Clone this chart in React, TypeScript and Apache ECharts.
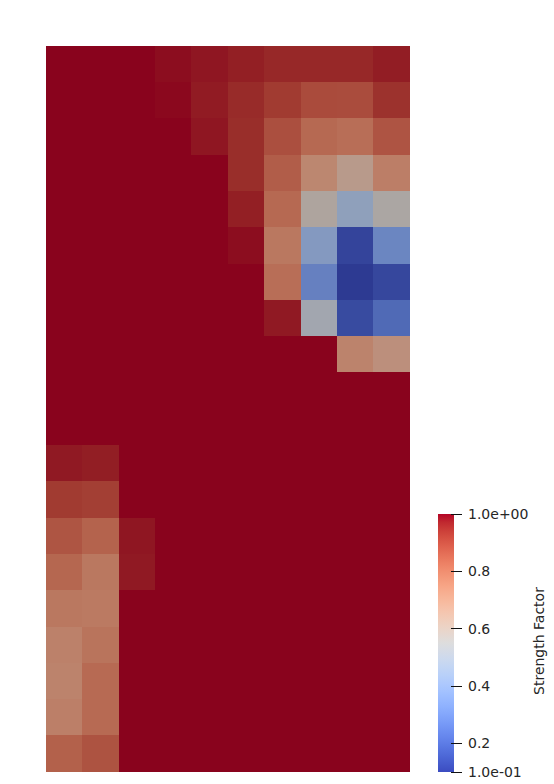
import React, { useEffect, useRef } from "react";
import * as echarts from "echarts";

// Grid of "Strength Factor" values, rows top->bottom, 10 columns each
const ROW_VALUES: number[][] = [
  [1, 1, 1, 0.99, 0.98, 0.97, 0.955, 0.955, 0.955, 0.973],
  [1, 1, 1, 0.995, 0.975, 0.95, 0.92, 0.883, 0.88, 0.937],
  [1, 1, 1, 1, 0.98, 0.946, 0.874, 0.808, 0.795, 0.861],
  [1, 1, 1, 1, 1, 0.946, 0.84, 0.72, 0.64, 0.747],
  [1, 1, 1, 1, 1, 0.97, 0.81, 0.58, 0.45, 0.565],
  [1, 1, 1, 1, 1, 0.99, 0.766, 0.41, 0.128, 0.325],
  [1, 1, 1, 1, 1, 1, 0.795, 0.307, 0.1, 0.135],
  [1, 1, 1, 1, 1, 1, 0.977, 0.52, 0.145, 0.235],
  [1, 1, 1, 1, 1, 1, 1, 1, 0.73, 0.685],
  [1, 1, 1, 1, 1, 1, 1, 1, 1, 1],
  [1, 1, 1, 1, 1, 1, 1, 1, 1, 1],
  [0.977, 0.972, 1, 1, 1, 1, 1, 1, 1, 1],
  [0.92, 0.91, 1, 1, 1, 1, 1, 1, 1, 1],
  [0.86, 0.825, 0.98, 1, 1, 1, 1, 1, 1, 1],
  [0.815, 0.766, 0.977, 1, 1, 1, 1, 1, 1, 1],
  [0.766, 0.76, 1, 1, 1, 1, 1, 1, 1, 1],
  [0.736, 0.777, 1, 1, 1, 1, 1, 1, 1, 1],
  [0.73, 0.806, 1, 1, 1, 1, 1, 1, 1, 1],
  [0.745, 0.806, 1, 1, 1, 1, 1, 1, 1, 1],
  [0.83, 0.865, 1, 1, 1, 1, 1, 1, 1, 1],
];

const COLUMNS = ["0", "1", "2", "3", "4", "5", "6", "7", "8", "9"];
const ROWS = ROW_VALUES.map((_, i) => String(i));

const RANGE_MIN = 0.1;
const RANGE_MAX = 1.0;
const TICK_VALUES = [1.0, 0.8, 0.6, 0.4, 0.2, 0.1];
const TICK_LABELS = ["1.0e+00", "0.8", "0.6", "0.4", "0.2", "1.0e-01"];
const BAR_TITLE = "Strength Factor";

// ParaView "Cool to Warm" colormap
const COOL_WARM: number[][] = [
  [59, 76, 192], [68, 90, 204], [77, 104, 215], [87, 117, 225], [98, 130, 234],
  [108, 142, 241], [119, 154, 247], [130, 165, 251], [141, 176, 254], [152, 185, 255],
  [163, 194, 255], [174, 201, 253], [184, 208, 249], [194, 213, 244], [204, 217, 238],
  [213, 219, 230], [221, 221, 221], [229, 216, 209], [236, 211, 197], [241, 204, 185],
  [245, 196, 173], [247, 187, 160], [247, 177, 148], [247, 166, 135], [244, 154, 123],
  [241, 141, 111], [236, 127, 99], [229, 112, 88], [222, 96, 77], [213, 80, 66],
  [203, 62, 56], [192, 40, 47], [180, 4, 38],
];

const SHADE = 0.76;
const FONT = "14px 'DejaVu Sans', sans-serif";

const rgb = (c: number[], k = 1) =>
  `rgb(${Math.round(c[0] * k)},${Math.round(c[1] * k)},${Math.round(c[2] * k)})`;

export default function App() {
  const ref = useRef<HTMLDivElement>(null);
  useEffect(() => {
    if (!ref.current) return;
    const chart = echarts.init(ref.current, undefined, { renderer: "svg" });

    const data: [number, number, number][] = [];
    ROW_VALUES.forEach((row, r) => row.forEach((v, c) => data.push([c, r, v])));

    const barX = 438, barY = 514, barW = 16, barH = 258;
    const yOf = (v: number) => barY + ((RANGE_MAX - v) / (RANGE_MAX - RANGE_MIN)) * barH;
    const stops = COOL_WARM.map((c, i) => ({ offset: i / (COOL_WARM.length - 1), color: rgb(c) }));

    const graphics: any[] = [
      {
        type: "rect",
        shape: { x: barX, y: barY, width: barW, height: barH },
        style: { fill: { type: "linear", x: 0, y: 1, x2: 0, y2: 0, colorStops: stops } },
        silent: true,
      },
    ];
    TICK_VALUES.forEach((v, i) => {
      const y = yOf(v);
      graphics.push({
        type: "line",
        shape: { x1: 451, y1: y, x2: 462, y2: y },
        style: { stroke: "#111", lineWidth: 1 },
        silent: true,
      });
      graphics.push({
        type: "text",
        x: 468,
        y: y,
        style: {
          text: TICK_LABELS[i],
          fill: "#262626",
          font: FONT,
          align: "left",
          verticalAlign: "middle",
        },
        silent: true,
      });
    });
    graphics.push({
      type: "text",
      x: 539,
      y: 641,
      rotation: Math.PI / 2,
      style: {
        text: BAR_TITLE,
        fill: "#262626",
        font: FONT,
        align: "center",
        verticalAlign: "middle",
      },
      silent: true,
    });

    chart.setOption({
      animation: false,
      backgroundColor: "#ffffff",
      grid: { left: 46, top: 46, width: 364, height: 726 },
      xAxis: { type: "category", data: COLUMNS, show: false },
      yAxis: { type: "category", data: ROWS, show: false, inverse: true },
      visualMap: {
        type: "continuous",
        show: false,
        min: RANGE_MIN,
        max: RANGE_MAX,
        dimension: 2,
        inRange: { color: COOL_WARM.map((c) => rgb(c, SHADE)) },
      },
      series: [
        {
          type: "heatmap",
          data,
          itemStyle: { borderWidth: 0 },
          emphasis: { disabled: true },
        },
      ],
      graphic: graphics,
    });
    return () => chart.dispose();
  }, []);
  return (
    <>
      <style>{`.sf-chart svg path { shape-rendering: crispEdges; }`}</style>
      <div
        ref={ref}
        className="sf-chart"
        style={{ position: "absolute", left: 0, top: 0, width: 554, height: 784 }}
      />
    </>
  );
}
